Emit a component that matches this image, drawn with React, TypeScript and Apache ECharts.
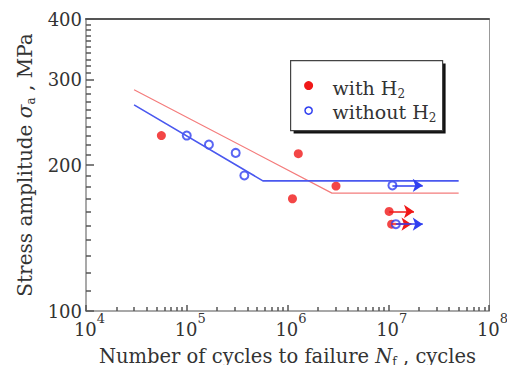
import React, { useEffect, useRef } from "react";
import * as echarts from "echarts";

// Stress amplitude (MPa) vs number of cycles to failure
const withH2Points: number[][] = [
  [5.6e4, 230],
  [1.12e6, 170.4],
  [1.28e6, 211],
  [3.03e6, 181],
  [1.02e7, 160.4],
  [1.08e7, 151],
];
const withoutH2Points: number[][] = [
  [1.0e5, 230],
  [1.66e5, 220.3],
  [3.06e5, 211.8],
  [3.73e5, 190.3],
  [1.1e7, 181.5],
  [1.19e7, 151],
];
// fitted S-N curves
const withH2Curve: number[][] = [
  [3e4, 286],
  [2.76e6, 175],
  [5e7, 175],
];
const withoutH2Curve: number[][] = [
  [3e4, 266],
  [5.7e5, 185.5],
  [5e7, 185.5],
];
// run-outs: [start N, arrow N, stress]
const withH2Runouts: number[][] = [
  [1.02e7, 1.8e7, 160.4],
  [1.08e7, 1.7e7, 151],
];
const withoutH2Runouts: number[][] = [
  [1.1e7, 2.2e7, 181.5],
  [1.19e7, 2.2e7, 151],
];

const xMin = 1e4;
const xMax = 1e8;
const yMin = 100;
const yMax = 400;
const xTickLabels = [1e4, 1e5, 1e6, 1e7, 1e8];
const yTickLabels = [100, 200, 300, 400];
const xMinorTicks: number[] = [
  2e4, 3e4, 4e4, 5e4, 6e4, 7e4, 8e4, 9e4,
  2e5, 3e5, 4e5, 5e5, 6e5, 7e5, 8e5, 9e5,
  2e6, 3e6, 4e6, 5e6, 6e6, 7e6, 8e6, 9e6,
  2e7, 3e7, 4e7, 5e7, 6e7, 7e7, 8e7, 9e7,
];
const yMinorTicks: number[] = [
  110, 120, 130, 140, 150, 160, 170, 180, 190,
  210, 220, 230, 240, 250, 260, 270, 280, 290,
  310, 320, 330, 340, 350, 360, 370, 380, 390,
];

const FONT = "DejaVu Serif";
const TXT = "#333";
const RED = "#f01818";
const BLUE = "#2f3ff0";
const RED_LINE = "#f47c7c";
const BLUE_LINE = "#4a58ef";
const AXIS = "#8c8c8c";
const TICK = "#555";

const tickAxis = (min: number, max: number, position: string, values: number[], length: number) => ({
  type: "log",
  min,
  max,
  position,
  axisLine: { show: false, onZero: false },
  axisLabel: { show: false },
  splitLine: { show: false },
  axisTick: {
    show: true,
    inside: true,
    length,
    customValues: values,
    lineStyle: { color: TICK, width: 1.5 },
  },
});

export default function App() {
  const ref = useRef<HTMLDivElement>(null);
  useEffect(() => {
    if (!ref.current) return;
    const chart = echarts.init(ref.current, undefined, { renderer: "svg" });

    const runoutLines = (rows: number[][]) =>
      rows.map((r) => [{ coord: [r[0], r[2]] }, { coord: [r[1], r[2]] }]);

    const option: any = {
      animation: false,
      backgroundColor: "#fff",
      grid: { left: 86, right: 26, top: 19, bottom: 62 },
      xAxis: [
        {
          type: "log",
          min: xMin,
          max: xMax,
          position: "bottom",
          axisLine: { show: true, onZero: false, lineStyle: { color: AXIS, width: 1.5 } },
          axisTick: {
            show: true,
            inside: true,
            length: 6,
            lineStyle: { color: TICK, width: 1.5 },
          },
          splitLine: { show: false },
          axisLabel: {
            show: true,
            margin: 1,
            formatter: (v: number) => `{b|10}{s|${Math.round(Math.log10(v))}}`,
            rich: {
              b: { fontFamily: FONT, fontSize: 18, color: TXT, lineHeight: 34, padding: [0, 0, 0, 7] },
              s: { fontFamily: FONT, fontSize: 13, color: TXT, lineHeight: 13, verticalAlign: "top" },
            },
          },
          name: "{n|Number of cycles to failure }{i|N}{sub|f}{n| , cycles}",
          nameLocation: "middle",
          nameGap: 33,
          nameTextStyle: {
            rich: {
              n: { fontFamily: FONT, fontSize: 19.5, color: TXT, lineHeight: 24 },
              i: { fontFamily: FONT, fontSize: 19.5, fontStyle: "italic", color: TXT, lineHeight: 24 },
              sub: { fontFamily: FONT, fontSize: 12, color: TXT, lineHeight: 12, verticalAlign: "bottom" },
            },
          },
        },
        {
          type: "log",
          min: xMin,
          max: xMax,
          position: "top",
          axisLine: { show: true, onZero: false, lineStyle: { color: "#555", width: 2 } },
          axisTick: { show: false },
          axisLabel: { show: false },
          splitLine: { show: false },
        },
        tickAxis(xMin, xMax, "bottom", xMinorTicks, 4),
      ],
      yAxis: [
        {
          type: "log",
          min: yMin,
          max: yMax,
          position: "left",
          axisLine: { show: true, onZero: false, lineStyle: { color: AXIS, width: 1.5 } },
          axisTick: {
            show: true,
            inside: true,
            length: 8,
            customValues: yTickLabels,
            lineStyle: { color: TICK, width: 1.5 },
          },
          splitLine: { show: false },
          axisLabel: {
            show: true,
            customValues: yTickLabels,
            margin: 4,
            fontFamily: FONT,
            fontSize: 18,
            color: TXT,
            formatter: (v: number) => String(Math.round(v)),
          },
          name: "{n|Stress amplitude }{i|σ}{sub|a}{n| , MPa}",
          nameLocation: "middle",
          nameGap: 43,
          nameTextStyle: {
            rich: {
              n: { fontFamily: FONT, fontSize: 20, color: TXT, lineHeight: 24 },
              i: { fontFamily: FONT, fontSize: 20, fontStyle: "italic", color: TXT, lineHeight: 24 },
              sub: { fontFamily: FONT, fontSize: 12, color: TXT, lineHeight: 12, verticalAlign: "bottom" },
            },
          },
        },
        {
          type: "log",
          min: yMin,
          max: yMax,
          position: "right",
          axisLine: { show: true, onZero: false, lineStyle: { color: "#999", width: 1 } },
          axisTick: { show: false },
          axisLabel: { show: false },
          splitLine: { show: false },
        },
        tickAxis(yMin, yMax, "left", yMinorTicks, 5),
      ],
      series: [
        {
          name: "with H2 curve",
          type: "line",
          data: withH2Curve,
          symbol: "none",
          silent: true,
          lineStyle: { color: RED_LINE, width: 1.2 },
        },
        {
          name: "without H2 curve",
          type: "line",
          data: withoutH2Curve,
          symbol: "none",
          silent: true,
          lineStyle: { color: BLUE_LINE, width: 1.6 },
        },
        {
          name: "with H2",
          type: "scatter",
          data: withH2Points,
          symbol: "circle",
          symbolSize: 9,
          itemStyle: { color: RED },
          markLine: {
            silent: true,
            symbol: ["none", "arrow"],
            symbolSize: 10,
            label: { show: false },
            lineStyle: { type: "solid", color: RED, width: 1.5 },
            data: runoutLines(withH2Runouts),
          },
        },
        {
          name: "without H2",
          type: "scatter",
          data: withoutH2Points,
          symbol: "emptyCircle",
          symbolSize: 8,
          itemStyle: { color: BLUE, borderColor: BLUE, borderWidth: 1.5 },
          markLine: {
            silent: true,
            symbol: ["none", "arrow"],
            symbolSize: 10,
            label: { show: false },
            lineStyle: { type: "solid", color: BLUE, width: 1.5 },
            data: runoutLines(withoutH2Runouts),
          },
        },
      ],
      graphic: [
        {
          type: "group",
          left: 290,
          top: 60,
          children: [
            { type: "rect", shape: { x: 3, y: 3, width: 152, height: 70 }, style: { fill: "#111" } },
            {
              type: "rect",
              shape: { x: 0, y: 0, width: 152, height: 70 },
              style: { fill: "#fff", stroke: "#444", lineWidth: 1.2 },
            },
            { type: "circle", shape: { cx: 18, cy: 25, r: 4.5 }, style: { fill: RED } },
            {
              type: "circle",
              shape: { cx: 18, cy: 50, r: 3.6 },
              style: { fill: "#fff", stroke: BLUE, lineWidth: 1.5 },
            },
            {
              type: "text",
              x: 42,
              y: 27,
              style: {
                text: "{n|with H}{sub|2}",
                verticalAlign: "middle",
                rich: {
                  n: { fontFamily: FONT, fontSize: 19, fill: TXT, lineHeight: 24 },
                  sub: { fontFamily: FONT, fontSize: 12, fill: TXT, lineHeight: 12, verticalAlign: "bottom" },
                },
              },
            },
            {
              type: "text",
              x: 42,
              y: 51,
              style: {
                text: "{n|without H}{sub|2}",
                verticalAlign: "middle",
                rich: {
                  n: { fontFamily: FONT, fontSize: 19, fill: TXT, lineHeight: 24 },
                  sub: { fontFamily: FONT, fontSize: 12, fill: TXT, lineHeight: 12, verticalAlign: "bottom" },
                },
              },
            },
          ],
        },
      ],
    };

    chart.setOption(option);
    return () => chart.dispose();
  }, []);

  return <div ref={ref} style={{ width: 515, height: 373, margin: -8 }} />;
}
